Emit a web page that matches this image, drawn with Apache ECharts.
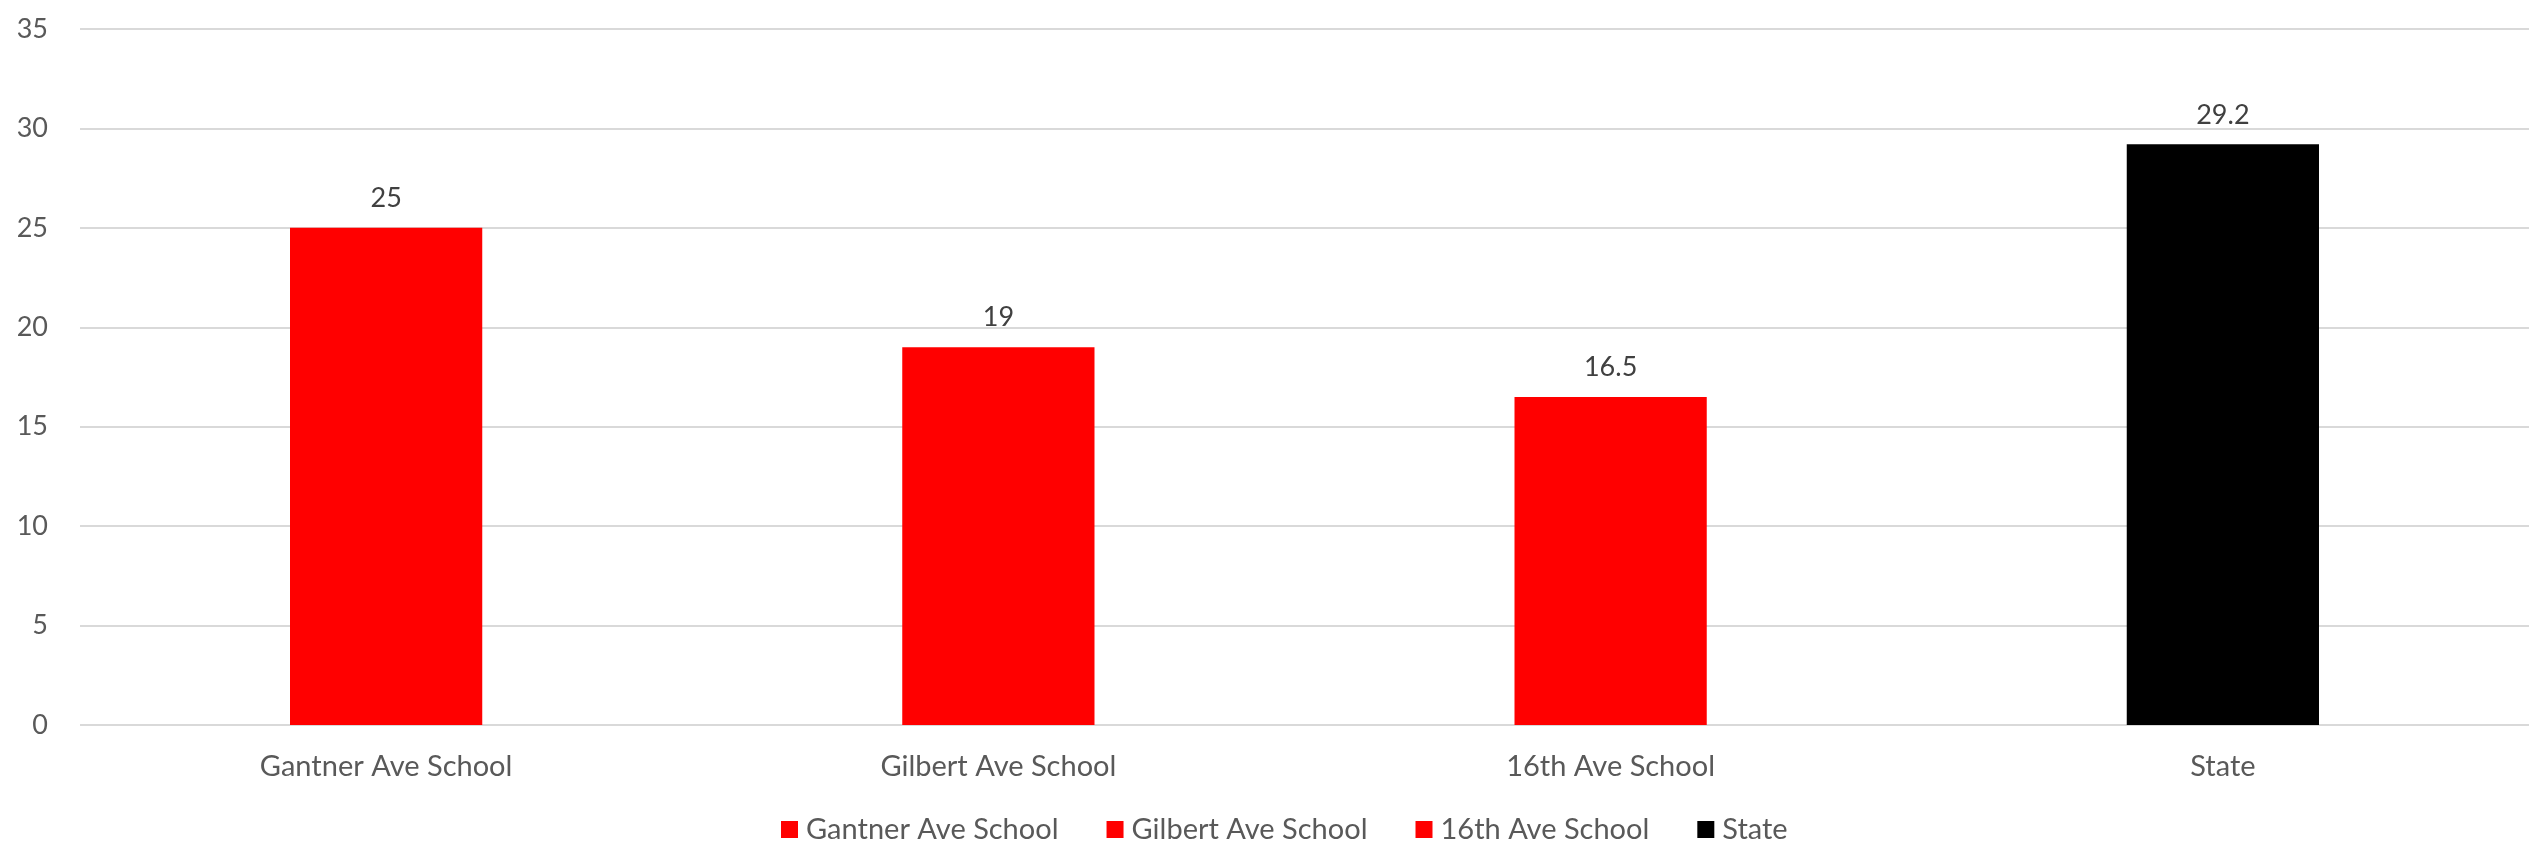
<!DOCTYPE html>
<html><head><meta charset="utf-8">
<script src="https://cdn.jsdelivr.net/npm/echarts@6/dist/echarts.min.js"></script>
<style>html,body{margin:0;padding:0;background:#fff}#c{width:2529px;height:843px}</style>
</head><body><div id="c"></div>
<script>
const categories = ['Gantner Ave School', 'Gilbert Ave School', '16th Ave School', 'State'];
const values = [25, 19, 16.5, 29.2];
const colors = ['#ff0000', '#ff0000', '#ff0000', '#000000'];
const yTicks = [0, 5, 10, 15, 20, 25, 30, 35];

const FONT = 'Lato';
const series = categories.map((name, i) => ({
  name: name,
  type: 'bar',
  stack: 'all',
  barWidth: '31.4%',
  itemStyle: { color: colors[i] },
  label: { show: true, position: 'top', distance: 16, color: '#404040', fontSize: 27, fontFamily: FONT },
  data: categories.map((c, j) => j === i ? values[i] : null)
}));

const chart = echarts.init(document.getElementById('c'));
chart.setOption({
  animation: false,
  textStyle: { fontFamily: FONT },
  grid: { left: 80, right: 0, top: 29, bottom: 118, containLabel: false },
  legend: {
    top: 810, left: 776, itemWidth: 17, itemHeight: 17, itemGap: 48,
    icon: 'rect',
    textStyle: { color: '#595959', fontSize: 29, fontFamily: FONT, padding: [0, 0, 0, 3] },
    data: categories
  },
  xAxis: {
    type: 'category', data: categories,
    axisLine: { show: false }, axisTick: { show: false },
    axisLabel: { color: '#595959', fontSize: 29, fontFamily: FONT, margin: 27 }
  },
  yAxis: {
    type: 'value', min: yTicks[0], max: yTicks[yTicks.length - 1], interval: 5,
    axisLine: { show: false }, axisTick: { show: false },
    splitLine: { lineStyle: { color: '#d9d9d9', width: 2 } },
    axisLabel: { color: '#595959', fontSize: 27, fontFamily: FONT, margin: 32 }
  },
  series: series
});
</script></body></html>
